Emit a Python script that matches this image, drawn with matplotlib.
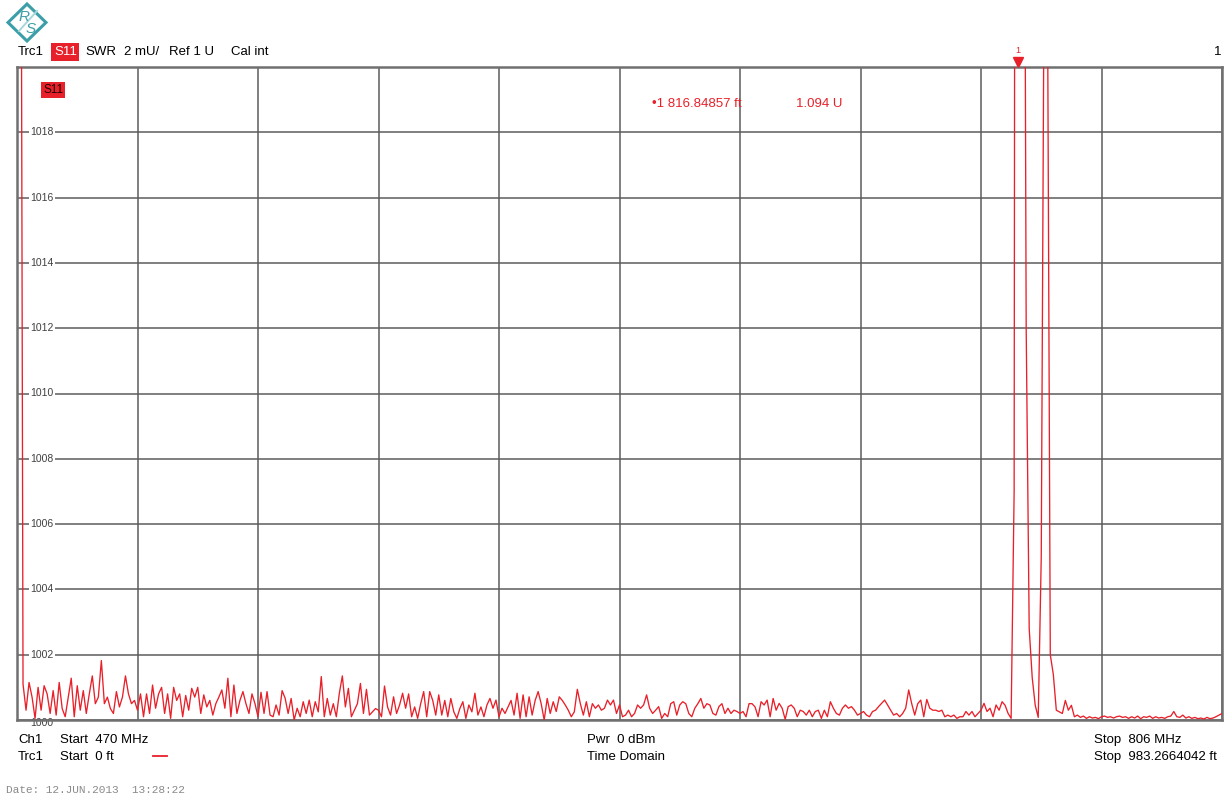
import numpy as np
import matplotlib
matplotlib.use("Agg")
import matplotlib.pyplot as plt
from matplotlib.patches import Polygon
from matplotlib.transforms import blended_transform_factory

plt.rcParams["font.family"] = ["Liberation Sans", "DejaVu Sans"]

# Sweep settings (time domain, distance to fault)
start_ft = 0.0
stop_ft = 983.2664042
n_points = 401

# SWR above 1 U, in milli-units, one value per sweep point
swr_excess_mU = [
    60, 40, 1.1, 0.3, 1.15, 0.7, 0.05, 1.0, 0.3, 1.05,
    0.8, 0.2, 0.9, 0.15, 1.15, 0.35, 0.1, 0.7, 1.28, 0.1,
    1.05, 0.3, 0.9, 0.2, 0.8, 1.35, 0.5, 0.7, 1.82, 0.5,
    0.7, 0.35, 0.2, 0.87, 0.4, 0.7, 1.35, 0.8, 0.5, 0.6,
    0.3, 0.8, 0.1, 0.8, 0.2, 1.07, 0.36, 0.8, 1.0, 0.2,
    0.8, 0.05, 1.0, 0.6, 0.8, 0.1, 0.75, 0.3, 0.97, 0.7,
    1.0, 0.2, 0.77, 0.4, 0.6, 0.15, 0.5, 0.7, 0.92, 0.36,
    1.28, 0.1, 1.07, 0.2, 0.6, 0.87, 0.5, 0.2, 0.8, 0.5,
    0.1, 0.85, 0.2, 0.87, 0.15, 0.1, 0.46, 0.15, 0.9, 0.67,
    0.2, 0.66, 0.0, 0.36, 0.1, 0.56, 0.2, 0.61, 0.1, 0.56,
    0.25, 1.33, 0.1, 0.66, 0.15, 0.5, 0.1, 0.82, 1.35, 0.4,
    0.97, 0.1, 0.3, 0.5, 1.12, 0.2, 0.94, 0.15, 0.25, 0.35,
    0.3, 0.1, 1.04, 0.4, 0.15, 0.71, 0.2, 0.46, 0.82, 0.36,
    0.8, 0.1, 0.4, 0.05, 0.5, 0.87, 0.1, 0.87, 0.6, 0.15,
    0.77, 0.15, 0.6, 0.1, 0.66, 0.25, 0.05, 0.35, 0.56, 0.05,
    0.46, 0.25, 0.82, 0.15, 0.4, 0.1, 0.46, 0.66, 0.36, 0.61,
    0.1, 0.36, 0.2, 0.4, 0.6, 0.15, 0.82, 0.05, 0.77, 0.1,
    0.71, 0.15, 0.6, 0.87, 0.5, 0.0, 0.66, 0.2, 0.56, 0.26,
    0.71, 0.6, 0.46, 0.3, 0.1, 0.25, 0.94, 0.5, 0.15, 0.56,
    0.1, 0.5, 0.36, 0.46, 0.3, 0.36, 0.61, 0.46, 0.61, 0.2,
    0.46, 0.1, 0.15, 0.3, 0.1, 0.2, 0.46, 0.36, 0.46, 0.77,
    0.36, 0.2, 0.3, 0.41, 0.05, 0.2, 0.1, 0.5, 0.56, 0.15,
    0.46, 0.56, 0.5, 0.2, 0.1, 0.36, 0.5, 0.66, 0.36, 0.5,
    0.46, 0.2, 0.15, 0.41, 0.5, 0.2, 0.36, 0.2, 0.3, 0.26,
    0.2, 0.26, 0.1, 0.5, 0.5, 0.4, 0.1, 0.56, 0.46, 0.61,
    0.1, 0.66, 0.3, 0.51, 0.36, 0.02, 0.41, 0.46, 0.36, 0.1,
    0.3, 0.26, 0.15, 0.3, 0.1, 0.26, 0.3, 0.05, 0.3, 0.1,
    0.56, 0.36, 0.2, 0.15, 0.36, 0.46, 0.36, 0.41, 0.3, 0.15,
    0.2, 0.26, 0.15, 0.1, 0.26, 0.3, 0.41, 0.51, 0.61, 0.46,
    0.3, 0.15, 0.2, 0.1, 0.2, 0.36, 0.92, 0.5, 0.15, 0.5,
    0.61, 0.1, 0.63, 0.36, 0.3, 0.3, 0.26, 0.3, 0.1, 0.15,
    0.1, 0.15, 0.05, 0.1, 0.1, 0.26, 0.15, 0.26, 0.1, 0.2,
    0.3, 0.51, 0.26, 0.36, 0.1, 0.46, 0.3, 0.56, 0.45, 0.2,
    0.05, 7, 94, 70, 40, 12, 2.8, 1.3, 0.45, 0.08,
    5, 24, 24, 2.0, 1.4, 0.3, 0.25, 0.2, 0.6, 0.3,
    0.45, 0.1, 0.15, 0.08, 0.12, 0.05, 0.1, 0.06, 0.08, 0.04,
    0.1, 0.12, 0.08, 0.1, 0.06, 0.1, 0.12, 0.08, 0.1, 0.05,
    0.1, 0.06, 0.12, 0.04, 0.1, 0.08, 0.12, 0.05, 0.1, 0.06,
    0.08, 0.05, 0.1, 0.12, 0.26, 0.1, 0.08, 0.15, 0.06, 0.1,
    0.05, 0.08, 0.04, 0.06, 0.03, 0.08, 0.04, 0.06, 0.1, 0.15,
    0.2,
]

# Scale: reference 1 U at the bottom line, 2 mU per division, 10 divisions
ref_mU = 1000
div_mU = 2
n_div = 10
y_tick_values = [1000, 1002, 1004, 1006, 1008, 1010, 1012, 1014, 1016, 1018]

# Marker 1
marker_ft = 816.84857
marker_swr_U = 1.094

W, H = 1231, 797
RED = "#e8202a"
TEAL = "#3c9fa8"

dist_ft = np.linspace(start_ft, stop_ft, n_points)
swr_mU = ref_mU + np.asarray(swr_excess_mU)

fig = plt.figure(figsize=(W / 100, H / 100), dpi=100)
fig.patch.set_facecolor("white")
ax = fig.add_axes([17 / W, 1 - 720 / H, 1205 / W, 653 / H])
ax.set_xlim(start_ft, stop_ft)
ax.set_ylim(ref_mU, ref_mU + n_div * div_mU)
ax.set_xticks(np.linspace(start_ft, stop_ft, n_div + 1))
ax.set_yticks(np.arange(ref_mU, ref_mU + n_div * div_mU + 1, div_mU))
ax.tick_params(length=0, labelleft=False, labelbottom=False)
ax.grid(True, color="#5c5c5c", linewidth=1.1)
ax.set_axisbelow(True)
for sp in ax.spines.values():
    sp.set_color("#707070")
    sp.set_linewidth(1.8)
    sp.set_zorder(2.6)

ax.plot(dist_ft, swr_mU, color=RED, linewidth=0.95, zorder=3)

# Scale labels drawn inside the grid
ylab_tr = blended_transform_factory(ax.transAxes, ax.transData)
for v in y_tick_values:
    if v == ref_mU:
        ax.text(0.0207, v - 0.08, str(v), transform=ylab_tr, ha="center", va="center",
                fontsize=7.5, color="#404040", zorder=2.4)
    else:
        ax.text(0.0207, v, str(v), transform=ylab_tr, ha="center", va="center",
                fontsize=7.5, color="#404040", zorder=2.4,
                bbox=dict(facecolor="white", edgecolor="none", pad=1.2))

# Marker symbol above the grid
mk_tr = blended_transform_factory(ax.transData, ax.transAxes)
ax.plot([marker_ft], [1.0075], marker="v", color=RED, markersize=6.5,
        transform=mk_tr, clip_on=False, zorder=5)
ax.text(marker_ft, 1.026, "1", transform=mk_tr, ha="center", va="center",
        fontsize=6.5, color=RED, clip_on=False)

# Overlay for header, footer and annotations in pixel units
ov = fig.add_axes([0, 0, 1, 1], zorder=10)
ov.set_xlim(0, W)
ov.set_ylim(H, 0)
ov.axis("off")

FS = 9.5
# Logo
ov.add_patch(Polygon([(27, 4), (46, 22.5), (27, 41), (8, 22.5)], closed=True,
                     fill=False, edgecolor=TEAL, linewidth=2.2))
ov.plot([19, 27, 37], [31, 22, 11], color="#a8d6da", linewidth=1.4)
ov.text(24, 17, "R", fontsize=11, color=TEAL, style="italic", ha="center", va="center")
ov.text(31, 29, "S", fontsize=11, color=TEAL, style="italic", ha="center", va="center")

# Header line
ov.text(18, 55, "Trc1", fontsize=FS, color="black", va="baseline")
ov.text(54, 55, "S11", fontsize=FS, color="white", va="baseline",
        bbox=dict(facecolor=RED, edgecolor="none", pad=1.8))
ov.text(85, 55, "SWR", fontsize=FS, color="black", va="baseline")
ov.text(124, 55, "2 mU/", fontsize=FS, color="black", va="baseline")
ov.text(169, 55, "Ref 1 U", fontsize=FS, color="black", va="baseline")
ov.text(231, 55, "Cal int", fontsize=FS, color="black", va="baseline")
ov.text(1221, 55, "1", fontsize=FS, color="black", va="baseline", ha="right")

# Trace label inside the grid
ov.text(43, 93, "S11", fontsize=8.5, color="#200000", va="baseline",
        bbox=dict(facecolor=RED, edgecolor="none", pad=1.4))

# Marker readout
ov.text(652, 107, "\u2022" + f"1 {marker_ft:.5f} ft", fontsize=FS, color=RED, va="baseline")
ov.text(796, 107, f"{marker_swr_U:.3f} U", fontsize=FS, color=RED, va="baseline")

# Footer
ov.text(18, 743, "Ch1", fontsize=FS, color="black", va="baseline")
ov.text(60, 743, "Start  470 MHz", fontsize=FS, color="black", va="baseline")
ov.text(18, 760, "Trc1", fontsize=FS, color="black", va="baseline")
ov.text(60, 760, f"Start  {start_ft:.0f} ft", fontsize=FS, color="black", va="baseline")
ov.plot([153, 167], [756, 756], color=RED, linewidth=1.3)
ov.text(587, 743, "Pwr  0 dBm", fontsize=FS, color="black", va="baseline")
ov.text(587, 760, "Time Domain", fontsize=FS, color="black", va="baseline")
ov.text(1094, 743, "Stop  806 MHz", fontsize=FS, color="black", va="baseline")
ov.text(1094, 760, f"Stop  {stop_ft:.7f} ft", fontsize=FS, color="black", va="baseline")
ov.text(6, 793, "Date: 12.JUN.2013  13:28:22", fontsize=8, color="#8a8a8a",
        va="baseline", family="Liberation Mono")

fig.savefig("out.png", dpi=100, facecolor="white")
